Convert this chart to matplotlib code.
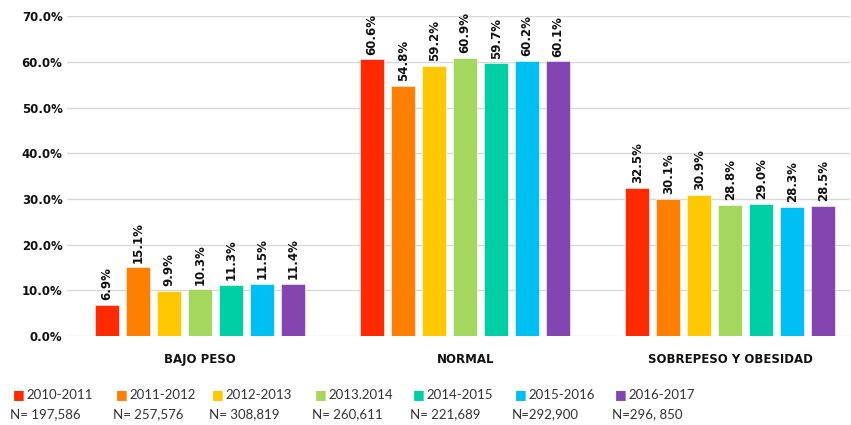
import numpy as np
from matplotlib import pyplot as plt
from matplotlib.ticker import FuncFormatter

categories = ["BAJO PESO", "NORMAL", "SOBREPESO Y OBESIDAD"]
periods = ["2010-2011", "2011-2012", "2012-2013", "2013.2014", "2014-2015", "2015-2016", "2016-2017"]
n_labels = ["N= 197,586", "N= 257,576", "N= 308,819", "N= 260,611", "N= 221,689", "N=292,900", "N=296, 850"]
bajo_peso = [6.9, 15.1, 9.9, 10.3, 11.3, 11.5, 11.4]
normal = [60.6, 54.8, 59.2, 60.9, 59.7, 60.2, 60.1]
sobrepeso = [32.5, 30.1, 30.9, 28.8, 29.0, 28.3, 28.5]
colors = ["#ff2a00", "#ff7f00", "#ffc800", "#a5d65e", "#00cfa5", "#00bff3", "#8346b0"]

values = np.array([bajo_peso, normal, sobrepeso])  # rows = categories

fig = plt.figure(figsize=(8.51, 4.25), dpi=100)
ax = fig.add_axes([0.0793, 0.209, 0.919, 0.753])

x = np.arange(len(categories))
step = 0.117
width = 0.09
for i, p in enumerate(periods):
    pos = x + (i - 3) * step
    vals = values[:, i]
    ax.bar(pos, vals, width, color=colors[i], edgecolor="white", linewidth=0.4, zorder=3)
    for xp, v in zip(pos, vals):
        ax.text(xp, v + 1.0, "{:.1f}%".format(v), rotation=90, ha="center", va="bottom",
                fontsize=8.5, fontweight="bold", color="#111111")

ax.set_ylim(0, 70)
ax.set_yticks(np.arange(0, 71, 10))
ax.yaxis.set_major_formatter(FuncFormatter(lambda v, _: "{:.1f}%".format(v)))
ax.set_xlim(-0.5, 2.45)
ax.set_xticks(x)
ax.set_xticklabels(categories)
ax.tick_params(axis="both", length=0, labelsize=8.5, colors="#111111")
ax.tick_params(axis="x", pad=12)
for lab in ax.get_xticklabels() + ax.get_yticklabels():
    lab.set_fontweight("bold")
ax.grid(axis="y", color="#d9d9d9", linewidth=1, zorder=0)
for s in ax.spines.values():
    s.set_visible(False)

# legend row with N values below
xs = [13, 116, 212, 315, 413, 515, 615]
for i, p in enumerate(periods):
    fx = xs[i] / 851
    fig.text(fx, 1 - 395 / 425, "\u25a0", color=colors[i], fontsize=9, ha="left", va="center",
             family="DejaVu Sans")
    fig.text(fx + 13 / 851, 1 - 395 / 425, p, fontsize=9.5, ha="left", va="center",
             color="#333333", family="Lato")
    fig.text(fx - 3 / 851, 1 - 414 / 425, n_labels[i], fontsize=9.5, ha="left", va="center",
             color="#333333", family="Lato")

fig.savefig("out.png", dpi=100)
